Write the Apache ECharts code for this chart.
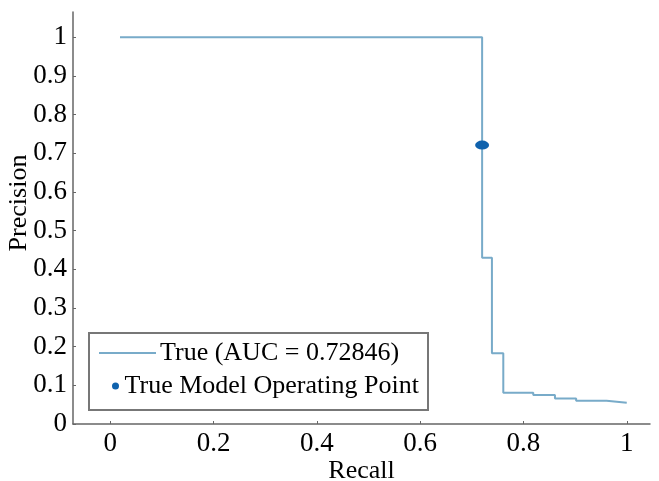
<!DOCTYPE html>
<html>
<head>
<meta charset="utf-8">
<script src="https://cdn.jsdelivr.net/npm/echarts@6/dist/echarts.min.js"></script>
<style>
  html, body { margin: 0; padding: 0; background: #fff; }
  #main { width: 659px; height: 481px; }
</style>
</head>
<body>
<div id="main"></div>
<script>
// precision-recall step curve (step: 'end')
var recall = [0.019, 0.72, 0.739, 0.761, 0.819, 0.861, 0.902, 0.961, 1.0];
var precision = [1.0, 0.43, 0.183, 0.081, 0.075, 0.066, 0.060, 0.055, 0.055];
var opPoint = [0.72, 0.721];
var xTicks = [0, 0.2, 0.4, 0.6, 0.8, 1];
var yTicks = [0, 0.1, 0.2, 0.3, 0.4, 0.5, 0.6, 0.7, 0.8, 0.9, 1];
var lineName = "True (AUC = 0.72846)";
var pointName = "True Model Operating Point";

var dom = document.getElementById("main");
var myChart = echarts.init(dom, null, { renderer: "canvas" });

var serif = "Liberation Serif";
var curve = [];
for (var i = 0; i < recall.length; i++) {
  curve.push([recall[i], precision[i]]);
}

var fmt = function (v) {
  return String(Math.round(v * 10) / 10);
};

var option = {
  animation: false,
  backgroundColor: "#fff",
  grid: { left: 73, top: 12, right: 9, bottom: 57, outerBoundsMode: "none", containLabel: false },
  xAxis: {
    type: "value",
    min: -0.072,
    max: 1.045,
    name: "Recall",
    nameLocation: "middle",
    nameGap: 34,
    nameMoveOverlap: false,
    nameTextStyle: { fontFamily: serif, fontSize: 26, color: "#000" },
    axisLine: { onZero: false, lineStyle: { color: "#666", width: 1.5 } },
    axisTick: { show: true, inside: true, length: 3, customValues: xTicks, lineStyle: { color: "#666" } },
    axisLabel: { customValues: xTicks, formatter: fmt, fontFamily: serif, fontSize: 27, color: "#000", margin: 6 },
    splitLine: { show: false },
  },
  yAxis: {
    type: "value",
    min: 0,
    max: 1.065,
    name: "Precision",
    nameLocation: "middle",
    nameGap: 41,
    nameMoveOverlap: false,
    nameTextStyle: { fontFamily: serif, fontSize: 26, color: "#000", padding: [0, 0, 0, 30] },
    axisLine: { show: true, onZero: false, lineStyle: { color: "#666", width: 1.5 } },
    axisTick: { show: true, inside: true, length: 3, customValues: yTicks, lineStyle: { color: "#666" } },
    axisLabel: { customValues: yTicks, formatter: fmt, fontFamily: serif, fontSize: 27, color: "#000", margin: 6 },
    splitLine: { show: false },
  },
  graphic: [
    {
      type: "rect",
      shape: { x: 89, y: 333, width: 339, height: 77 },
      style: { fill: "#fff", stroke: "#777", lineWidth: 2 },
      z: 10,
    },
  ],
  legend: [
    {
      data: [{ name: lineName, icon: "rect" }],
      left: 99,
      top: 340,
      padding: 0,
      itemWidth: 57,
      itemHeight: 2,
      itemGap: 4,
      textStyle: { fontFamily: serif, fontSize: 26, color: "#000", padding: [0, 0, 0, -1] },
      z: 20,
    },
    {
      data: [{ name: pointName, icon: "circle", itemStyle: { opacity: 1 } }],
      left: 112,
      top: 373,
      padding: 0,
      itemWidth: 10,
      itemHeight: 7,
      textStyle: { fontFamily: serif, fontSize: 26, color: "#000", padding: [0, 0, 0, -1] },
      z: 20,
    },
  ],
  series: [
    {
      name: lineName,
      type: "line",
      step: "end",
      data: curve,
      showSymbol: false,
      symbol: "none",
      lineStyle: { color: "#78abc9", width: 2 },
      itemStyle: { color: "#78abc9" },
    },
    {
      name: pointName,
      type: "scatter",
      data: [opPoint],
      symbol: "circle",
      symbolSize: [14, 9],
      itemStyle: { color: "#0f62ad", opacity: 1 },
      z: 5,
    },
  ],
};

myChart.setOption(option);
</script>
</body>
</html>
